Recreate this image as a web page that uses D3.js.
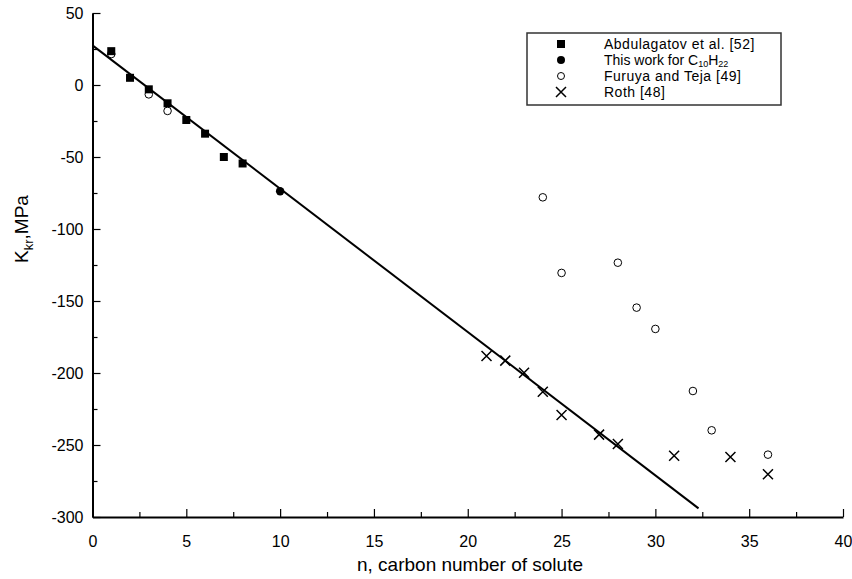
<!DOCTYPE html>
<html><head><meta charset="utf-8">
<script src="https://cdn.jsdelivr.net/npm/d3@7"></script>
<style>body{margin:0;background:#fff}svg{display:block}text{font-family:"Liberation Sans",Arial,sans-serif}</style>
</head><body><svg id="c" width="852" height="579"></svg>
<script>
// Data
const abdN = [1, 2, 3, 4, 5, 6, 7, 8];
const abdK = [23.5, 5, -3, -12.7, -24.3, -33.8, -50, -54.5];
const thisN = [10];
const thisK = [-73.8];
const furN = [1, 3, 4, 24, 25, 28, 29, 30, 32, 33, 36];
const furK = [21.5, -6.5, -18, -78, -130.5, -123.4, -154.6, -169.4, -212.5, -239.8, -256.7];
const rothN = [21, 22, 23, 24, 25, 27, 28, 31, 34, 36];
const rothK = [-188.2, -191.4, -199.8, -213, -229.2, -242.8, -249.3, -257.4, -258.3, -270.3];
const fitN = [0, 32.3];
const fitK = [27.5, -294];
const xTicks = [0, 5, 10, 15, 20, 25, 30, 35, 40];
const yTicks = [50, 0, -50, -100, -150, -200, -250, -300];
const legendLabels = ["Abdulagatov et al. [52]", "This work for C10H22", "Furuya and Teja [49]", "Roth [48]"];

const svg = d3.select("#c");
const x = d3.scaleLinear().domain([0, 40]).range([92.5, 843]);
const y = d3.scaleLinear().domain([-300, 50]).range([517, 13]);
const fmt = (d) => String(d);

// axes
svg.append("g").attr("transform", `translate(0,${y(-300)})`)
  .call(d3.axisBottom(x).tickValues(xTicks).tickSizeInner(-8).tickSizeOuter(0).tickPadding(19).tickFormat(fmt));
const gxm = svg.append("g").attr("transform", `translate(0,${y(-300)})`)
  .call(d3.axisBottom(x).tickValues(d3.range(2.5, 40, 5)).tickSizeInner(-5).tickSizeOuter(0).tickFormat(""));
gxm.select(".domain").remove();
svg.append("g").attr("transform", `translate(${x(0)},0)`)
  .call(d3.axisLeft(y).tickValues(yTicks).tickSizeInner(-8).tickSizeOuter(0).tickPadding(9).tickFormat(fmt));
const gym = svg.append("g").attr("transform", `translate(${x(0)},0)`)
  .call(d3.axisLeft(y).tickValues(d3.range(25, -300, -50)).tickSizeInner(-5).tickSizeOuter(0).tickFormat(""));
gym.select(".domain").remove();
svg.selectAll(".domain").attr("stroke", "#000").attr("stroke-width", 2);
svg.selectAll(".tick line").attr("stroke", "#000").attr("stroke-width", 1.2);
svg.selectAll(".tick text").attr("font-size", 16).attr("fill", "#000").attr("font-family", "Liberation Sans, Arial, sans-serif");

// titles
svg.append("text").attr("x", 470).attr("y", 571).attr("text-anchor", "middle")
  .attr("font-size", 19).text("n, carbon number of solute");
const yt = svg.append("text").attr("transform", `translate(28,${y(-100)}) rotate(-90)`)
  .attr("text-anchor", "middle").attr("font-size", 19);
yt.append("tspan").text("K");
yt.append("tspan").attr("font-size", 13).attr("dy", 5).text("kr");
yt.append("tspan").attr("dy", -5).text(",MPa");

// fit line
svg.append("line").attr("x1", x(fitN[0])).attr("y1", y(fitK[0])).attr("x2", x(fitN[1])).attr("y2", y(fitK[1]))
  .attr("stroke", "#000").attr("stroke-width", 2);

// markers
const sq = 8;
svg.append("g").selectAll("rect").data(abdN).join("rect")
  .attr("x", (d) => x(d) - sq / 2).attr("y", (d, i) => y(abdK[i]) - sq / 2)
  .attr("width", sq).attr("height", sq).attr("fill", "#000");
svg.append("g").selectAll("circle").data(furN).join("circle")
  .attr("cx", (d) => x(d)).attr("cy", (d, i) => y(furK[i])).attr("r", 3.8)
  .attr("fill", "none").attr("stroke", "#000").attr("stroke-width", 1);
svg.append("g").selectAll("circle").data(thisN).join("circle")
  .attr("cx", (d) => x(d)).attr("cy", (d, i) => y(thisK[i])).attr("r", 4.2).attr("fill", "#000");
const cr = 5;
const crossPath = (cx, cy) => `M${cx - cr},${cy - cr}L${cx + cr},${cy + cr}M${cx - cr},${cy + cr}L${cx + cr},${cy - cr}`;
svg.append("g").selectAll("path").data(rothN).join("path")
  .attr("d", (d, i) => crossPath(x(d), y(rothK[i])))
  .attr("stroke", "#000").attr("stroke-width", 1.5).attr("fill", "none");

// legend
const lg = svg.append("g");
lg.append("rect").attr("x", 527).attr("y", 33).attr("width", 254).attr("height", 72)
  .attr("fill", "#fff").attr("stroke", "#333").attr("stroke-width", 1.5);
const rowsY = [44, 60, 76, 92];
const sx = 561, tx = 604;
lg.append("rect").attr("x", sx - 4).attr("y", rowsY[0] - 4).attr("width", 8).attr("height", 8).attr("fill", "#000");
lg.append("circle").attr("cx", sx).attr("cy", rowsY[1]).attr("r", 4).attr("fill", "#000");
lg.append("circle").attr("cx", sx).attr("cy", rowsY[2]).attr("r", 3.5).attr("fill", "none").attr("stroke", "#000");
lg.append("path").attr("d", crossPath(sx, rowsY[3])).attr("stroke", "#000").attr("stroke-width", 1.5);
const fs = 14;
const ls = 0.5;
lg.append("text").attr("x", tx).attr("y", rowsY[0] + 5).attr("font-size", fs).attr("letter-spacing", ls).text(legendLabels[0]);
const t2 = lg.append("text").attr("x", tx).attr("y", rowsY[1] + 5).attr("font-size", fs);
t2.append("tspan").text("This work for C");
t2.append("tspan").attr("font-size", 9).attr("dy", 2).text("10");
t2.append("tspan").attr("dy", -2).text("H");
t2.append("tspan").attr("font-size", 9).attr("dy", 2).text("22");
lg.append("text").attr("x", tx).attr("y", rowsY[2] + 5).attr("font-size", fs).attr("letter-spacing", ls).text(legendLabels[2]);
lg.append("text").attr("x", tx).attr("y", rowsY[3] + 5).attr("font-size", fs).attr("letter-spacing", ls).text(legendLabels[3]);
</script></body></html>
